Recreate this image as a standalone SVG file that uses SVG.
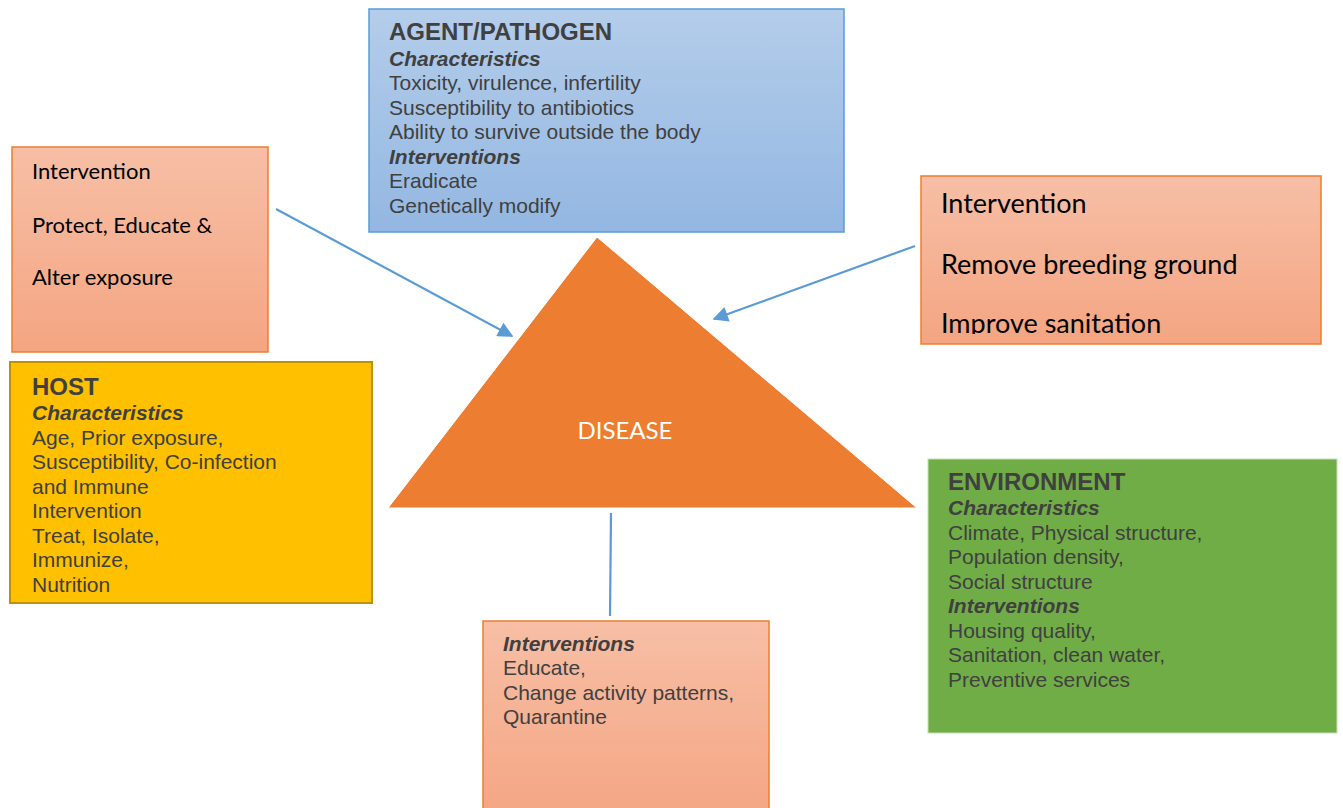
<svg xmlns="http://www.w3.org/2000/svg" width="1343" height="808" viewBox="0 0 1343 808">
<defs>
<linearGradient id="gBlue" x1="0" y1="0" x2="0" y2="1"><stop offset="0" stop-color="#b4cdea"/><stop offset="1" stop-color="#93b7e2"/></linearGradient>
<linearGradient id="gSalmon" x1="0" y1="0" x2="0" y2="1"><stop offset="0" stop-color="#f7bfa6"/><stop offset="1" stop-color="#f4a582"/></linearGradient>
<marker id="arr" viewBox="0 0 10 10" refX="9" refY="5" markerWidth="8" markerHeight="7" orient="auto" markerUnits="strokeWidth"><path d="M0,0 L10,5 L0,10 z" fill="#5b9bd5"/></marker>
<style>
.t{font-family:"Liberation Sans",Arial,sans-serif;font-size:21px;fill:#404040}
.h{font-weight:bold;font-size:24px}
.i{font-weight:bold;font-style:italic}
.c{font-family:Lato,"Liberation Sans",sans-serif;fill:#000}
.conn{stroke:#5b9bd5;stroke-width:2.2;fill:none}
</style>
<clipPath id="clipR"><rect x="921" y="176" width="400" height="158"/></clipPath>
</defs>
<g id="connectors">
<line class="conn" x1="276" y1="209" x2="512" y2="336" marker-end="url(#arr)"/>
<line class="conn" x1="915" y1="246" x2="714" y2="319" marker-end="url(#arr)"/>
<line class="conn" x1="611" y1="513" x2="610" y2="616"/>
</g>
<g id="disease">
<polygon points="597,237 917,508 388,508" fill="#ed7d31" stroke="#ffffff" stroke-width="1"/>
<text x="625" y="439" text-anchor="middle" font-family="Lato,'Liberation Sans',sans-serif" font-size="24" fill="#ffffff">DISEASE</text>
</g>
<g id="agent">
<rect x="369" y="9" width="475" height="223" fill="url(#gBlue)" stroke="#5b9bd5" stroke-width="1.5"/>
<text class="t" x="389"><tspan class="h" x="389" y="40">AGENT/PATHOGEN</tspan><tspan class="i" x="389" y="66">Characteristics</tspan><tspan x="389" y="90">Toxicity, virulence, infertility</tspan><tspan x="389" y="115">Susceptibility to antibiotics</tspan><tspan x="389" y="139">Ability to survive outside the body</tspan><tspan class="i" x="389" y="164">Interventions</tspan><tspan x="389" y="188">Eradicate</tspan><tspan x="389" y="213">Genetically modify</tspan></text>
</g>
<g id="host-intervention">
<rect x="12" y="147" width="256" height="205" fill="url(#gSalmon)" stroke="#ed7d31" stroke-width="1.5"/>
<text class="c" font-size="22"><tspan x="32" y="179">Intervention</tspan><tspan x="32" y="233">Protect, Educate &amp;</tspan><tspan x="32" y="285">Alter exposure</tspan></text>
</g>
<g id="host">
<rect x="10" y="362" width="362" height="241" fill="#ffc000" stroke="#bf9000" stroke-width="2"/>
<text class="t"><tspan class="h" x="32" y="395">HOST</tspan><tspan class="i" x="32" y="420">Characteristics</tspan><tspan x="32" y="445">Age, Prior exposure,</tspan><tspan x="32" y="469">Susceptibility, Co-infection</tspan><tspan x="32" y="494">and Immune</tspan><tspan x="32" y="518">Intervention</tspan><tspan x="32" y="543">Treat, Isolate,</tspan><tspan x="32" y="567">Immunize,</tspan><tspan x="32" y="592">Nutrition</tspan></text>
</g>
<g id="env-intervention">
<rect x="921" y="176" width="400" height="168" fill="url(#gSalmon)" stroke="#ed7d31" stroke-width="1.5"/>
<text class="c" font-size="27" clip-path="url(#clipR)"><tspan x="941" y="213">Intervention</tspan><tspan x="941" y="274">Remove breeding ground</tspan><tspan x="941" y="333">Improve sanitation</tspan></text>
</g>
<g id="environment">
<rect x="928" y="459" width="409" height="274" fill="#70ad47" stroke="#c5e0b4" stroke-width="1"/>
<text class="t"><tspan class="h" x="948" y="490">ENVIRONMENT</tspan><tspan class="i" x="948" y="515">Characteristics</tspan><tspan x="948" y="540">Climate, Physical structure,</tspan><tspan x="948" y="564">Population density,</tspan><tspan x="948" y="589">Social structure</tspan><tspan class="i" x="948" y="613">Interventions</tspan><tspan x="948" y="638">Housing quality,</tspan><tspan x="948" y="662">Sanitation, clean water,</tspan><tspan x="948" y="687">Preventive services</tspan></text>
</g>
<g id="behaviour-intervention">
<rect x="483" y="621" width="286" height="200" fill="url(#gSalmon)" stroke="#ed7d31" stroke-width="1.5"/>
<text class="t"><tspan class="i" x="503" y="651">Interventions</tspan><tspan x="503" y="675">Educate,</tspan><tspan x="503" y="700">Change activity patterns,</tspan><tspan x="503" y="724">Quarantine</tspan></text>
</g>
</svg>
